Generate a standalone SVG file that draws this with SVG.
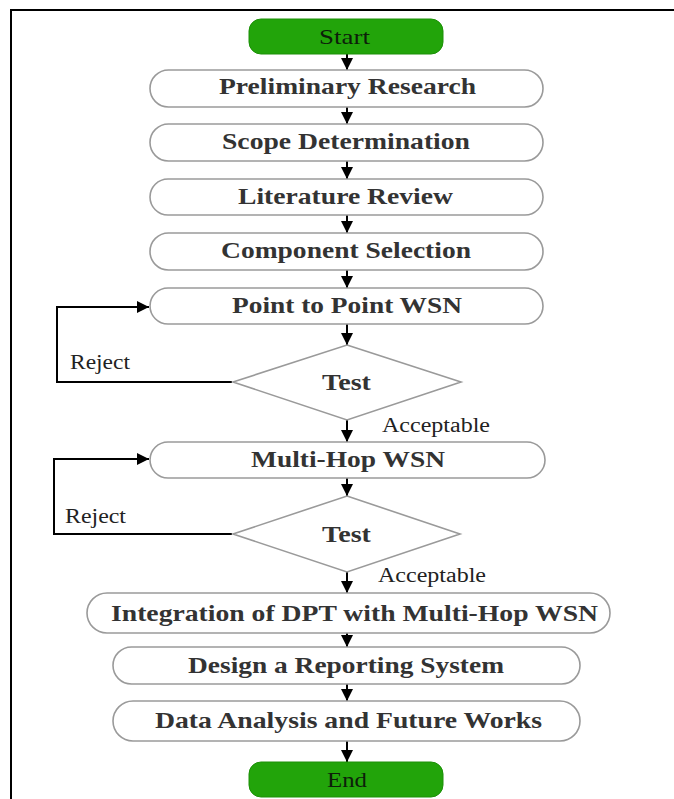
<svg xmlns="http://www.w3.org/2000/svg" width="674" height="799" viewBox="0 0 674 799">
<style>
.box{fill:#fff;stroke:#9a9a9a;stroke-width:1.6}
.term{fill:#22a40a;stroke:#1c9008;stroke-width:1}
.lbl{font-family:"Liberation Serif","Times New Roman",serif;font-weight:bold;font-size:23px;fill:#333}
.tl{font-family:"Liberation Serif","Times New Roman",serif;font-size:21px;fill:#0d1f0a}
.el{font-family:"Liberation Serif","Times New Roman",serif;font-size:20px;fill:#222}
.con{fill:none;stroke:#000;stroke-width:2}
</style>
<defs>
<marker id="ah" viewBox="0 0 12 12" refX="12" refY="6" markerWidth="12" markerHeight="12" markerUnits="userSpaceOnUse" orient="auto">
<path d="M0,0 L12,6 L0,12 z" fill="#000"/>
</marker>
</defs>
<rect width="674" height="799" fill="#fff"/>
<path d="M11,799 V10 H674" fill="none" stroke="#000" stroke-width="2"/>

<g id="connectors">
<line class="con" x1="347" y1="54" x2="347" y2="70" marker-end="url(#ah)"/>
<line class="con" x1="347" y1="107" x2="347" y2="124" marker-end="url(#ah)"/>
<line class="con" x1="347" y1="161" x2="347" y2="179" marker-end="url(#ah)"/>
<line class="con" x1="347" y1="215" x2="347" y2="233" marker-end="url(#ah)"/>
<line class="con" x1="347" y1="270" x2="347" y2="288" marker-end="url(#ah)"/>
<line class="con" x1="347" y1="324" x2="347" y2="345" marker-end="url(#ah)"/>
<line class="con" x1="347" y1="420" x2="347" y2="442" marker-end="url(#ah)"/>
<line class="con" x1="347" y1="478" x2="347" y2="496" marker-end="url(#ah)"/>
<line class="con" x1="347" y1="572" x2="347" y2="593" marker-end="url(#ah)"/>
<line class="con" x1="347" y1="633" x2="347" y2="647" marker-end="url(#ah)"/>
<line class="con" x1="347" y1="684" x2="347" y2="701" marker-end="url(#ah)"/>
<line class="con" x1="347" y1="741" x2="347" y2="762" marker-end="url(#ah)"/>
<polyline class="con" points="232,382 57,382 57,307 149,307" marker-end="url(#ah)"/>
<polyline class="con" points="232,534 54,534 54,459 149,459" marker-end="url(#ah)"/>
<text class="el" x="70" y="369" textLength="60" lengthAdjust="spacingAndGlyphs">Reject</text>
<text class="el" x="382" y="432" textLength="108" lengthAdjust="spacingAndGlyphs">Acceptable</text>
<text class="el" x="65" y="523" textLength="61" lengthAdjust="spacingAndGlyphs">Reject</text>
<text class="el" x="378" y="582" textLength="108" lengthAdjust="spacingAndGlyphs">Acceptable</text>
</g>

<g id="start">
<rect class="term" x="249" y="19" width="194" height="35" rx="12"/>
<text class="tl" x="319" y="44" textLength="51" lengthAdjust="spacingAndGlyphs">Start</text>
</g>
<g id="preliminary">
<rect class="box" x="150" y="70" width="393" height="37" rx="18.5"/>
<text class="lbl" x="219" y="94" textLength="257" lengthAdjust="spacingAndGlyphs">Preliminary Research</text>
</g>
<g id="scope">
<rect class="box" x="150" y="124" width="393" height="37" rx="18.5"/>
<text class="lbl" x="222" y="149" textLength="248" lengthAdjust="spacingAndGlyphs">Scope Determination</text>
</g>
<g id="literature">
<rect class="box" x="150" y="179" width="393" height="36" rx="18"/>
<text class="lbl" x="238" y="204" textLength="215" lengthAdjust="spacingAndGlyphs">Literature Review</text>
</g>
<g id="component">
<rect class="box" x="150" y="233" width="393" height="37" rx="18.5"/>
<text class="lbl" x="221" y="258" textLength="250" lengthAdjust="spacingAndGlyphs">Component Selection</text>
</g>
<g id="p2p">
<rect class="box" x="150" y="288" width="393" height="36" rx="18"/>
<text class="lbl" x="232" y="313" textLength="230" lengthAdjust="spacingAndGlyphs">Point to Point WSN</text>
</g>
<g id="test1">
<polygon class="box" points="347,345 461,382 347,420 233,382"/>
<text class="lbl" x="322" y="390" textLength="49" lengthAdjust="spacingAndGlyphs">Test</text>
</g>
<g id="multihop">
<rect class="box" x="150" y="442" width="395" height="36" rx="18"/>
<text class="lbl" x="251" y="467" textLength="194" lengthAdjust="spacingAndGlyphs">Multi-Hop WSN</text>
</g>
<g id="test2">
<polygon class="box" points="347,496 460,534 347,572 233,534"/>
<text class="lbl" x="322" y="542" textLength="49" lengthAdjust="spacingAndGlyphs">Test</text>
</g>
<g id="integration">
<rect class="box" x="87" y="593" width="523" height="40" rx="20"/>
<text class="lbl" x="111" y="621" textLength="487" lengthAdjust="spacingAndGlyphs">Integration of DPT with Multi-Hop WSN</text>
</g>
<g id="design">
<rect class="box" x="113" y="647" width="467" height="37" rx="18.5"/>
<text class="lbl" x="188" y="673" textLength="316" lengthAdjust="spacingAndGlyphs">Design a Reporting System</text>
</g>
<g id="analysis">
<rect class="box" x="113" y="701" width="467" height="40" rx="20"/>
<text class="lbl" x="155" y="728" textLength="387" lengthAdjust="spacingAndGlyphs">Data Analysis and Future Works</text>
</g>
<g id="end">
<rect class="term" x="249" y="762" width="194" height="35" rx="12"/>
<text class="tl" x="327" y="787" textLength="40" lengthAdjust="spacingAndGlyphs">End</text>
</g>
</svg>
